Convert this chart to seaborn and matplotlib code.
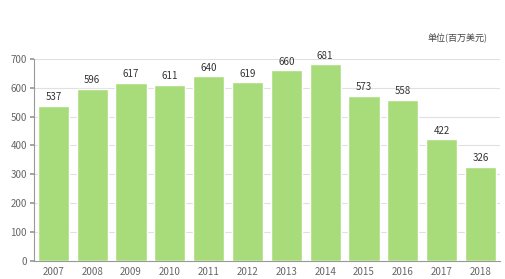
import matplotlib
matplotlib.use("Agg")
import matplotlib.pyplot as plt
import seaborn as sns
import pandas as pd

years = ["2007", "2008", "2009", "2010", "2011", "2012", "2013", "2014", "2015", "2016", "2017", "2018"]
values = [537, 596, 617, 611, 640, 619, 660, 681, 573, 558, 422, 326]
unit_label = "单位(百万美元)"
y_ticks = [0, 100, 200, 300, 400, 500, 600, 700]

sns.set_theme(style="white")
plt.rcParams['font.family'] = ['Noto Sans CJK SC', 'DejaVu Sans']

df = pd.DataFrame({"year": years, "value": values})
fig = plt.figure(figsize=(5.06, 2.79), dpi=100)
ax = fig.add_axes([0.067, 0.0645, 0.921, 0.7245])

sns.barplot(data=df, x="year", y="value", color="#a8dc7a", saturation=1, width=0.8, ax=ax, zorder=3)

ax.set_ylim(0, 700)
ax.set_yticks(y_ticks)
ax.set_xlim(-0.5, len(years) - 0.5)
ax.grid(axis="y", color="#e0e0e0", linewidth=0.8, zorder=0)
ax.set_xlabel("")
ax.set_ylabel("")
for s in ["top", "right"]:
    ax.spines[s].set_visible(False)
for s in ["left", "bottom"]:
    ax.spines[s].set_color("#999999")
    ax.spines[s].set_linewidth(0.8)
ax.tick_params(axis="y", length=3, color="#999999", labelsize=7, labelcolor="#666666", pad=2, left=True)
ax.tick_params(axis="x", length=0, labelsize=7, labelcolor="#666666", pad=4)

for i, v in enumerate(values):
    ax.text(i, v + 12, str(v), ha="center", va="bottom", fontsize=7, color="#333333")

fig.text(458 / 506, 1 - 38 / 279, unit_label, ha="center", va="center", fontsize=6.5, color="#444444")

fig.savefig("out.png", dpi=100)
